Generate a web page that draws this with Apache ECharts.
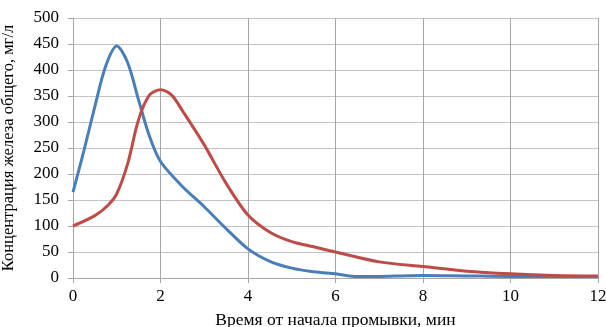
<!DOCTYPE html>
<html><head><meta charset="utf-8">
<script src="https://cdn.jsdelivr.net/npm/echarts@6/dist/echarts.min.js"></script>
<style>html,body{margin:0;padding:0;background:#fff}#c{width:606px;height:327px}</style>
</head><body><div id="c"></div>
<script>
var xTicks = [0, 2, 4, 6, 8, 10, 12];
var blueT = [0, 0.25, 0.5, 0.75, 1.0, 1.25, 1.5, 1.75, 2, 2.5, 3, 3.5, 4, 4.5, 5, 5.5, 6, 6.5, 7, 7.5, 8, 9, 10, 11, 12];
var blueV = [165, 245, 330, 408, 446, 414, 342, 272, 224, 176, 137, 95, 56, 32, 19, 12, 8, 3, 3, 4, 5, 4, 3, 3, 3];
var redT = [0, 0.5, 0.8, 1.0, 1.25, 1.5, 1.75, 2, 2.25, 2.5, 3, 3.5, 4, 4.5, 5, 5.5, 6, 7, 8, 9, 10, 11, 12];
var redV = [100, 120, 140, 162, 220, 305, 352, 362, 352, 322, 256, 182, 121, 88, 70, 60, 50, 31, 22, 13, 8, 5, 4];

function pairs(t, v) { return t.map(function (x, i) { return [x, v[i]]; }); }
var font = '"Liberation Serif", "Times New Roman", serif';
var chart = echarts.init(document.getElementById('c'), null, {renderer: 'canvas'});
chart.setOption({
  animation: false,
  grid: {left: 73, right: 8, top: 18, bottom: 49, containLabel: false, outerBoundsMode: 'none'},
  xAxis: {
    type: 'value', min: 0, max: 12, interval: 2,
    name: 'Время от начала промывки, мин', nameLocation: 'middle', nameGap: 33,
    nameTextStyle: {fontFamily: font, fontSize: 17.5, color: '#000', verticalAlign: 'top'},
    axisLine: {show: true, lineStyle: {color: '#a6a6a6', width: 1}},
    axisTick: {show: true, length: 5, lineStyle: {color: '#a6a6a6'}},
    axisLabel: {fontFamily: font, fontSize: 17, color: '#000', margin: 10},
    splitLine: {show: true, lineStyle: {color: '#a6a6a6', width: 1}}
  },
  yAxis: {
    type: 'value', min: 0, max: 500, interval: 50,
    name: 'Концентрация железа общего, мг/л', nameLocation: 'middle', nameGap: 56,
    nameTextStyle: {fontFamily: font, fontSize: 16.5, color: '#000'},
    axisLine: {show: true, lineStyle: {color: '#a6a6a6', width: 1}},
    axisTick: {show: true, length: 5, lineStyle: {color: '#a6a6a6'}},
    axisLabel: {fontFamily: font, fontSize: 17, color: '#000', margin: 14},
    splitLine: {show: true, lineStyle: {color: '#c4c4c4', width: 1}}
  },
  series: [
    {type: 'line', data: pairs(blueT, blueV), smooth: 0.3, showSymbol: false,
     lineStyle: {color: '#4a7ebb', width: 3}, itemStyle: {color: '#4a7ebb'}},
    {type: 'line', data: pairs(redT, redV), smooth: 0.3, showSymbol: false,
     lineStyle: {color: '#be4b48', width: 3}, itemStyle: {color: '#be4b48'}}
  ]
});
</script></body></html>
